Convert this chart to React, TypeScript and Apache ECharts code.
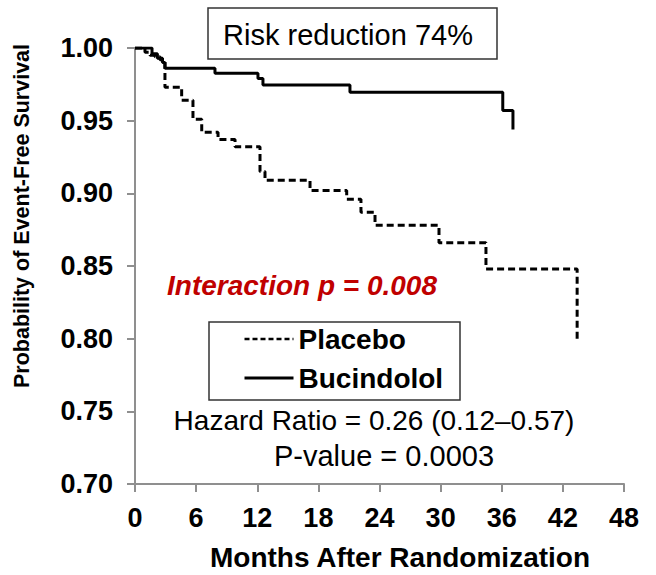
import React, { useEffect, useRef } from "react";
import * as echarts from "echarts";

// Kaplan-Meier step data
const placeboMonths = [0, 0.98, 1.47, 1.96, 2.45, 2.94, 4.58, 5.69, 6.55, 8.15, 9.82, 12.27, 12.76, 17.18, 20.78, 22.18, 23.56, 29.84, 34.45, 43.4];
const placeboSurvival = [1.0, 0.997, 0.995, 0.994, 0.992, 0.973, 0.964, 0.951, 0.942, 0.937, 0.932, 0.915, 0.909, 0.902, 0.896, 0.887, 0.878, 0.866, 0.848, 0.798];

const bucindololMonths = [0, 1.67, 2.2, 2.7, 2.94, 7.85, 12.07, 12.56, 21.1, 36.1, 37.1];
const bucindololSurvival = [1.0, 0.996, 0.993, 0.99, 0.986, 0.9826, 0.979, 0.9745, 0.9695, 0.957, 0.944];

const seriesNames = ["Placebo", "Bucindolol"];
const xMin = 0;
const xMax = 48;
const xStep = 6;
const yMin = 0.7;
const yMax = 1.0;
const yStep = 0.05;

const xTitle = "Months After Randomization";
const yTitle = "Probability of Event-Free Survival";
const riskText = "Risk reduction 74%";
const interactionText = "Interaction p = 0.008";
const hazardText = "Hazard Ratio = 0.26 (0.12\u20130.57)";
const pValueText = "P-value = 0.0003";

const FONT = "'Liberation Sans', Arial, sans-serif";

export default function App() {
  const ref = useRef<HTMLDivElement>(null);

  useEffect(() => {
    if (!ref.current) return;
    const chart = echarts.init(ref.current, undefined, { renderer: "svg" });
    const axisColor = "#8f8f8f";
    const option = {
      animation: false,
      backgroundColor: "#ffffff",
      grid: { left: 135, top: 48, width: 489, height: 436, containLabel: false },
      xAxis: {
        type: "value",
        min: xMin,
        max: xMax,
        interval: xStep,
        axisLine: { show: true, lineStyle: { color: axisColor, width: 2 } },
        axisTick: { show: true, length: 8, lineStyle: { color: axisColor, width: 2 } },
        splitLine: { show: false },
        axisLabel: {
          margin: 20,
          color: "#000",
          fontFamily: FONT,
          fontWeight: "bold",
          fontSize: 27,
        },
      },
      yAxis: {
        type: "value",
        min: yMin,
        max: yMax,
        interval: yStep,
        axisLine: { show: true, onZero: false, lineStyle: { color: axisColor, width: 2 } },
        axisTick: { show: true, length: 8, lineStyle: { color: axisColor, width: 2 } },
        splitLine: { show: false },
        axisLabel: {
          margin: 22,
          color: "#000",
          fontFamily: FONT,
          fontWeight: "bold",
          fontSize: 27,
          formatter: (v: number) => v.toFixed(2),
        },
      },
      legend: {
        data: [
          { name: seriesNames[0], lineStyle: { width: 2.5, type: [5, 3] } },
          { name: seriesNames[1], lineStyle: { width: 3 } },
        ],
        orient: "vertical",
        left: 243,
        top: 325,
        padding: 0,
        itemWidth: 49,
        itemHeight: 14,
        itemGap: 11,
        itemStyle: { color: "rgba(0,0,0,0)", borderWidth: 0, opacity: 0 },
        textStyle: {
          color: "#000",
          fontFamily: FONT,
          fontWeight: "bold",
          fontSize: 28,
          lineHeight: 28,
        },
      },
      series: [
        {
          name: seriesNames[0],
          type: "line",
          step: "end",
          symbol: "none",
          data: placeboMonths.map((m, i) => [m, placeboSurvival[i]]),
          lineStyle: { color: "#000", width: 3, type: [7, 4] },
          itemStyle: { color: "#000" },
        },
        {
          name: seriesNames[1],
          type: "line",
          step: "end",
          symbol: "none",
          data: bucindololMonths.map((m, i) => [m, bucindololSurvival[i]]),
          lineStyle: { color: "#000", width: 3, type: "solid" },
          itemStyle: { color: "#000" },
        },
      ],
      graphic: [
        {
          type: "rect",
          shape: { x: 208, y: 8, width: 289, height: 51 },
          style: { fill: "#fff", stroke: "#333", lineWidth: 1.5 },
        },
        {
          type: "text",
          x: 348,
          y: 35,
          style: {
            text: riskText,
            fill: "#000",
            font: `29px ${FONT}`,
            textAlign: "center",
            textVerticalAlign: "middle",
          },
        },
        {
          type: "rect",
          shape: { x: 209, y: 322, width: 251, height: 78 },
          style: { fill: "none", stroke: "#333", lineWidth: 1.5 },
        },
        {
          type: "text",
          x: 167,
          y: 285,
          style: {
            text: interactionText,
            fill: "#c00000",
            font: `italic bold 28px ${FONT}`,
            textAlign: "left",
            textVerticalAlign: "middle",
          },
        },
        {
          type: "text",
          x: 374,
          y: 420,
          style: {
            text: hazardText,
            fill: "#000",
            font: `28px ${FONT}`,
            textAlign: "center",
            textVerticalAlign: "middle",
          },
        },
        {
          type: "text",
          x: 384,
          y: 456,
          style: {
            text: pValueText,
            fill: "#000",
            font: `29px ${FONT}`,
            textAlign: "center",
            textVerticalAlign: "middle",
          },
        },
        {
          type: "text",
          x: 400,
          y: 557,
          style: {
            text: xTitle,
            fill: "#000",
            font: `bold 28px ${FONT}`,
            textAlign: "center",
            textVerticalAlign: "middle",
          },
        },
        {
          type: "text",
          x: 22,
          y: 216,
          rotation: Math.PI / 2,
          style: {
            text: yTitle,
            fill: "#000",
            font: `bold 21.5px ${FONT}`,
            textAlign: "center",
            textVerticalAlign: "middle",
          },
        },
      ],
    };
    chart.setOption(option as any);
    return () => chart.dispose();
  }, []);

  return (
    <div
      ref={ref}
      style={{ position: "fixed", left: 0, top: 0, width: 656, height: 575, background: "#fff" }}
    />
  );
}
